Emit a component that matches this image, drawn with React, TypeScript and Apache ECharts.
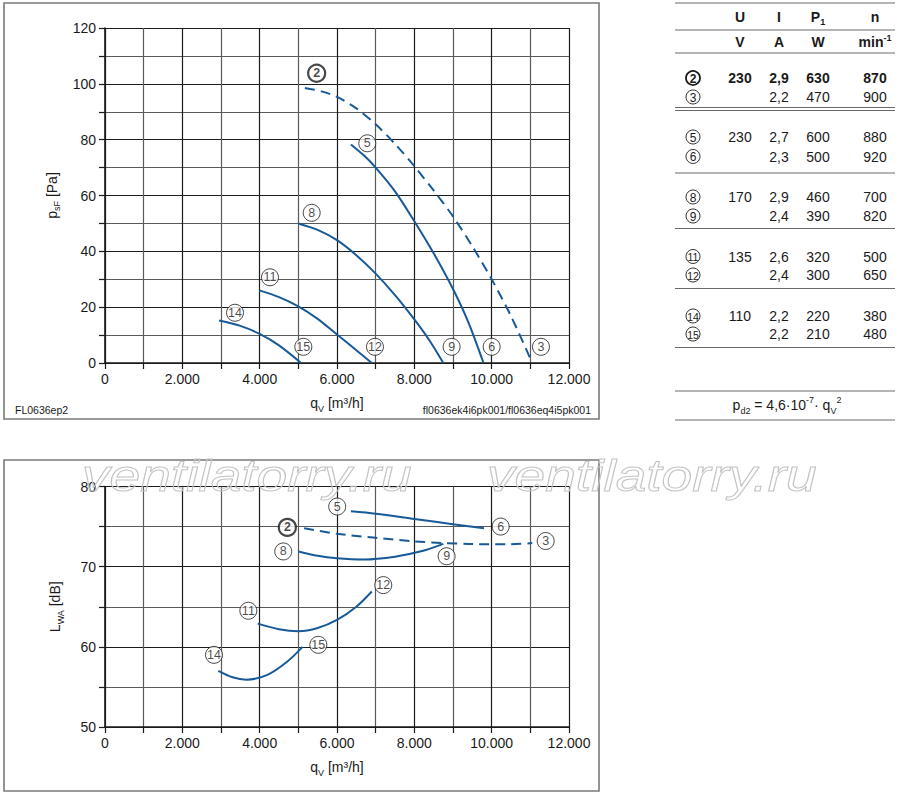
import React, { useEffect, useRef } from 'react';
import * as echarts from 'echarts';

// ---------- data ----------
// static pressure p_sF [Pa] vs air flow q_V [m3/h]
const psf2: number[][] = [[5170, 98.5], [5600, 97.3], [6000, 95.3], [6500, 91.2], [7000, 85.5], [7500, 78.5], [8000, 70.5], [8500, 61.8], [9000, 52.5], [9500, 41.8], [10000, 30], [10500, 16.8], [11050, 0]];
const psf5: number[][] = [[6360, 78.3], [6700, 74.3], [7000, 70], [7500, 61.5], [8000, 50.8], [8500, 39.3], [9000, 26.5], [9400, 14.5], [9790, 0]];
const psf8: number[][] = [[5000, 50], [5500, 47.7], [6000, 44], [6500, 38.6], [7000, 32], [7500, 24.3], [8000, 15.6], [8400, 7.9], [8750, 0]];
const psf11: number[][] = [[3990, 26], [4500, 23.6], [5000, 20.3], [5500, 15.8], [6000, 10.2], [6500, 4.6], [6900, 0]];
const psf14: number[][] = [[2950, 15.2], [3500, 13.3], [4000, 10.4], [4500, 6.3], [5070, 0]];

// sound power level L_WA [dB] vs air flow q_V [m3/h]
const lwa2: number[][] = [[5150, 74.8], [6000, 74.1], [7000, 73.6], [8000, 73.15], [8750, 72.95], [9500, 72.82], [10500, 72.8], [11050, 72.95]];
const lwa5: number[][] = [[6360, 76.9], [7000, 76.6], [8000, 75.95], [9000, 75.3], [9800, 74.8]];
const lwa8: number[][] = [[5000, 71.9], [5500, 71.35], [6000, 71.05], [6700, 70.9], [7500, 71.25], [8200, 71.95], [8750, 72.85]];
const lwa11: number[][] = [[3950, 62.9], [4500, 62.2], [5000, 61.95], [5500, 62.35], [6000, 63.35], [6500, 65.0], [6900, 66.9]];
const lwa14: number[][] = [[2930, 57], [3300, 56.2], [3650, 55.9], [4200, 56.5], [4700, 58.1], [5110, 60]];

// curve markers (q, value, id)
const psfMarks: [number, number, string][] = [
  [5474, 103.8, '2'], [6783, 78.7, '5'], [5345, 53.8, '8'], [4267, 30.7, '11'], [3362, 18, '14'],
  [5129, 5.8, '15'], [6982, 5.8, '12'], [8964, 5.8, '9'], [10000, 5.8, '6'], [11275, 5.8, '3'],
];
const lwaMarks: [number, number, string][] = [
  [4716, 74.9, '2'], [6005, 77.5, '5'], [10233, 75, '6'], [11397, 73.2, '3'], [4610, 71.9, '8'],
  [8835, 71.3, '9'], [7197, 67.7, '12'], [3707, 64.5, '11'], [5517, 60.25, '15'], [2819, 59, '14'],
];

// table
const tableHead = ['U', 'I', 'P', 'n'];
const tableUnits = ['V', 'A', 'W', 'min'];
const tableIds = ['2', '3', '5', '6', '8', '9', '11', '12', '14', '15'];
const tableU = ['230', '', '230', '', '170', '', '135', '', '110', ''];
const tableI = ['2,9', '2,2', '2,7', '2,3', '2,9', '2,4', '2,6', '2,4', '2,2', '2,2'];
const tableP = ['630', '470', '600', '500', '460', '390', '320', '300', '220', '210'];
const tableN = ['870', '900', '880', '920', '700', '820', '500', '650', '380', '480'];

const FONT = '"Liberation Sans", Arial, Helvetica, sans-serif';
const BLUE = '#175a97';
const INK = '#1a1a1a';

const fmtQ = (v: number) => (v % 2000 !== 0 ? '' : v === 0 ? '0' : `${v / 1000}.000`);

export default function App() {
  const ref = useRef<HTMLDivElement>(null);
  useEffect(() => {
    if (!ref.current) return;
    const chart = echarts.init(ref.current, null, { renderer: 'svg' });

    const axisX = (gridIndex: number) => ({
      type: 'value' as const,
      gridIndex,
      min: 0,
      max: 12000,
      interval: 1000,
      name: '{m|q}{s|V}{m| [m³/h]}',
      nameLocation: 'middle' as const,
      nameGap: 30,
      nameTextStyle: {
        rich: {
          m: { fontSize: 14, lineHeight: 20, color: INK, fontFamily: FONT },
          s: { fontSize: 9, verticalAlign: 'bottom', color: INK, fontFamily: FONT },
        },
      },
      axisLine: { show: true, onZero: false, lineStyle: { color: INK, width: 1.6 } },
      axisTick: { show: true, length: 6, lineStyle: { color: INK, width: 1.2 } },
      axisLabel: { formatter: fmtQ, fontSize: 14, color: INK, margin: 9, fontFamily: FONT, showMaxLabel: true, showMinLabel: true },
      splitLine: { show: true, lineStyle: { color: ['#1c1c1c', '#5a5a5a'], width: 1.2 } },
    });

    const curve = (data: number[][], xi: number, dashed = false) => ({
      type: 'line' as const,
      xAxisIndex: xi,
      yAxisIndex: xi,
      data,
      smooth: 0.3,
      showSymbol: false,
      symbol: 'none',
      lineStyle: { color: BLUE, width: 2, type: dashed ? ([10, 6] as any) : 'solid' },
      z: 3,
    });

    const marks = (m: [number, number, string][], xi: number) => ({
      type: 'scatter' as const,
      xAxisIndex: xi,
      yAxisIndex: xi,
      symbol: 'circle',
      symbolSize: 17,
      z: 5,
      data: m.map(([x, y, id]) => ({
        value: [x, y],
        name: id,
        itemStyle: { color: '#fff', borderColor: INK, borderWidth: id === '2' ? 2.2 : 1 },
        label: { fontWeight: id === '2' ? 'bold' : 'normal' },
      })),
      label: { show: true, position: 'inside', formatter: (p: any) => p.name, fontSize: 12.5, color: INK, fontFamily: FONT },
    });

    // ---- table graphics ----
    const g: any[] = [];
    const colX = [740, 779, 818, 875];
    const lineYs = [3, 30, 53, 107.5, 110.5, 173, 228.5, 288.5, 347.5, 391, 420];
    lineYs.forEach((y) =>
      g.push({ type: 'line', shape: { x1: 675, y1: y, x2: 895, y2: y }, style: { stroke: '#6a6a6a', lineWidth: 1 } })
    );
    tableHead.forEach((h, i) => {
      const txt = i === 2 ? `{b|${h}}{s|1}` : `{b|${h}}`;
      g.push({
        type: 'text',
        style: {
          text: txt, x: colX[i], y: 17, align: 'center', verticalAlign: 'middle',
          rich: {
            b: { fontSize: 14, fontWeight: 'bold', fill: INK, fontFamily: FONT, lineHeight: 18 },
            s: { fontSize: 9, fontWeight: 'bold', fill: INK, fontFamily: FONT, verticalAlign: 'bottom' },
          },
        },
      });
    });
    tableUnits.forEach((h, i) => {
      const txt = i === 3 ? `{b|${h}}{p|-1}` : `{b|${h}}`;
      g.push({
        type: 'text',
        style: {
          text: txt, x: colX[i], y: 42, align: 'center', verticalAlign: 'middle',
          rich: {
            b: { fontSize: 14, fontWeight: 'bold', fill: INK, fontFamily: FONT, lineHeight: 18 },
            p: { fontSize: 9, fontWeight: 'bold', fill: INK, fontFamily: FONT, verticalAlign: 'top' },
          },
        },
      });
    });
    const rowY = [78, 97, 137, 156.5, 197, 216, 256.5, 275, 316, 334];
    tableIds.forEach((id, r) => {
      const y = rowY[r];
      const bold = r === 0;
      g.push({ type: 'circle', shape: { cx: 693, cy: y, r: 7 }, style: { fill: '#fff', stroke: INK, lineWidth: bold ? 1.8 : 0.9 } });
      g.push({
        type: 'text',
        style: { text: id, x: 693, y: y + 0.5, align: 'center', verticalAlign: 'middle', fontSize: id.length > 1 ? 10.5 : 12, fontWeight: bold ? 'bold' : 'normal', fill: INK, fontFamily: FONT },
      });
      [tableU[r], tableI[r], tableP[r], tableN[r]].forEach((t, c) => {
        if (!t) return;
        g.push({
          type: 'text',
          style: { text: t, x: colX[c], y, align: 'center', verticalAlign: 'middle', fontSize: 14, fontWeight: bold ? 'bold' : 'normal', fill: INK, fontFamily: FONT },
        });
      });
    });
    g.push({
      type: 'text',
      style: {
        text: '{t|p}{s|d2}{t| = 4,6·10}{p|-7}{t|· q}{s|V}{p|2}', x: 787, y: 405, align: 'center', verticalAlign: 'middle',
        rich: {
          t: { fontSize: 14, fill: INK, fontFamily: FONT, lineHeight: 20 },
          s: { fontSize: 9, fill: INK, fontFamily: FONT, verticalAlign: 'bottom' },
          p: { fontSize: 9, fill: INK, fontFamily: FONT, verticalAlign: 'top' },
        },
      },
    });

    // frames and footnotes
    g.push({ type: 'rect', shape: { x: 4, y: 3, width: 595, height: 416 }, style: { fill: 'none', stroke: '#7a7a7a', lineWidth: 1.6 } });
    g.push({ type: 'rect', shape: { x: 4, y: 460, width: 595, height: 331 }, style: { fill: 'none', stroke: '#7a7a7a', lineWidth: 1.6 } });
    g.push({ type: 'text', style: { text: 'FL0636ep2', x: 15, y: 410, verticalAlign: 'middle', fontSize: 10.5, fill: INK, fontFamily: FONT } });
    g.push({ type: 'text', style: { text: 'fl0636ek4i6pk001/fl0636eq4i5pk001', x: 591, y: 410, align: 'right', verticalAlign: 'middle', fontSize: 10.5, fill: INK, fontFamily: FONT } });

    // watermark
    [82, 487].forEach((x) =>
      g.push({
        type: 'text', x, y: 475, scaleX: 1.225, z: 100,
        style: { text: 'ventilatorry.ru', x: 0, y: 0, verticalAlign: 'middle', fontSize: 45, fontStyle: 'italic', fill: 'rgba(255,255,255,0)', stroke: '#c4c4c4', lineWidth: 1, fontFamily: FONT },
      })
    );

    chart.setOption({
      animation: false,
      textStyle: { fontFamily: FONT },
      grid: [
        { left: 105, top: 28, width: 464, height: 335 },
        { left: 105, top: 486.5, width: 464, height: 240.5 },
      ],
      xAxis: [axisX(0), axisX(1)],
      yAxis: [
        {
          type: 'value', gridIndex: 0, min: 0, max: 120, interval: 10,
          name: '{m|p}{s|sF}{m| [Pa]}', nameLocation: 'middle', nameGap: 40, nameRotate: 90,
          nameTextStyle: { rich: { m: { fontSize: 14, lineHeight: 20, color: INK, fontFamily: FONT }, s: { fontSize: 9, verticalAlign: 'bottom', color: INK, fontFamily: FONT } } },
          axisLine: { show: true, lineStyle: { color: INK, width: 1.6 } },
          axisTick: { show: true, length: 6, lineStyle: { color: INK, width: 1.2 } },
          axisLabel: { formatter: (v: number) => (v % 20 === 0 ? String(v) : ''), fontSize: 14, color: INK, margin: 9, fontFamily: FONT },
          splitLine: { show: true, lineStyle: { color: ['#1c1c1c', '#5a5a5a'], width: 1.2 } },
        },
        {
          type: 'value', gridIndex: 1, min: 50, max: 80, interval: 5,
          name: '{m|L}{s|WA}{m| [dB]}', nameLocation: 'middle', nameGap: 40, nameRotate: 90,
          nameTextStyle: { rich: { m: { fontSize: 14, lineHeight: 20, color: INK, fontFamily: FONT }, s: { fontSize: 9, verticalAlign: 'bottom', color: INK, fontFamily: FONT } } },
          axisLine: { show: true, lineStyle: { color: INK, width: 1.6 } },
          axisTick: { show: true, length: 6, lineStyle: { color: INK, width: 1.2 } },
          axisLabel: { formatter: (v: number) => (v % 10 === 0 ? String(v) : ''), fontSize: 14, color: INK, margin: 9, fontFamily: FONT },
          splitLine: { show: true, lineStyle: { color: ['#1c1c1c', '#5a5a5a'], width: 1.2 } },
        },
      ],
      series: [
        curve(psf2, 0, true), curve(psf5, 0), curve(psf8, 0), curve(psf11, 0), curve(psf14, 0),
        curve(lwa2, 1, true), curve(lwa5, 1), curve(lwa8, 1), curve(lwa11, 1), curve(lwa14, 1),
        marks(psfMarks, 0), marks(lwaMarks, 1),
      ],
      graphic: g,
    });
    return () => chart.dispose();
  }, []);
  return <div ref={ref} style={{ position: 'absolute', left: 0, top: 0, width: 900, height: 797 }} />;
}
